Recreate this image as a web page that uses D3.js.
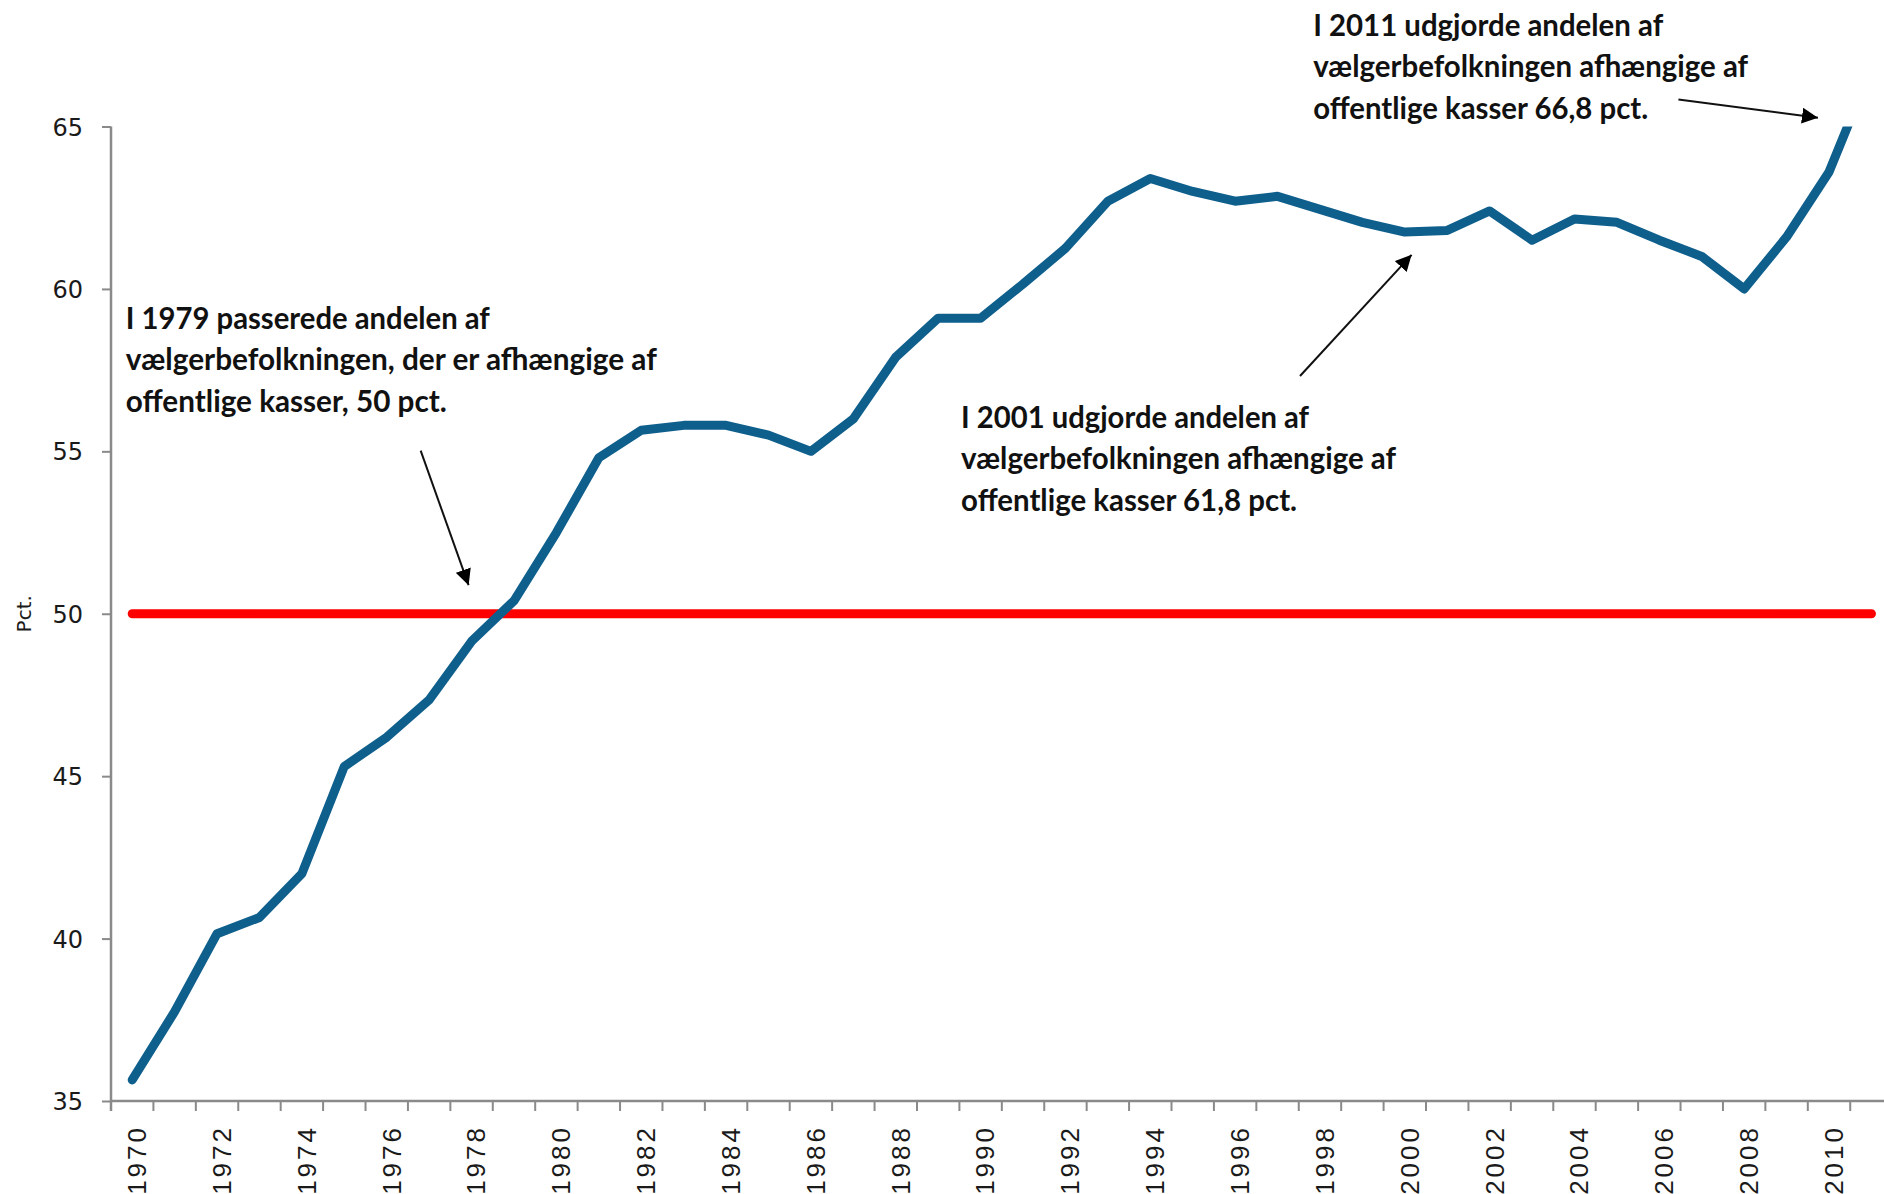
<!DOCTYPE html>
<html>
<head>
<meta charset="utf-8">
<script src="https://cdn.jsdelivr.net/npm/d3@7"></script>
<style>
html,body{margin:0;padding:0;background:#fff;}
svg{display:block;}
</style>
</head>
<body>
<svg id="chart" width="1884" height="1194"></svg>
<script>
// ---------------- DATA ----------------
const years = [1970,1971,1972,1973,1974,1975,1976,1977,1978,1979,
               1980,1981,1982,1983,1984,1985,1986,1987,1988,1989,
               1990,1991,1992,1993,1994,1995,1996,1997,1998,1999,
               2000,2001,2002,2003,2004,2005,2006,2007,2008,2009,
               2010,2011];
const shareValues = [35.65,37.75,40.15,40.65,42.0,45.3,46.2,47.35,49.15,50.4,
                     52.5,54.8,55.65,55.8,55.8,55.5,55.0,56.0,57.9,59.1,
                     59.1,60.15,61.25,62.7,63.4,63.0,62.7,62.85,62.45,62.05,
                     61.75,61.8,62.4,61.5,62.15,62.05,61.5,61.0,60.0,61.6,
                     63.6,66.8];
const thresholdValue = 50;
const yTicks = [35,40,45,50,55,60,65];
const xLabelYears = [1970,1972,1974,1976,1978,1980,1982,1984,1986,1988,1990,
                     1992,1994,1996,1998,2000,2002,2004,2006,2008,2010];
const yAxisTitle = "Pct.";

// annotations: text lines and anchor/arrow positions in data units (year, pct)
const annoLines1 = ["I 1979 passerede andelen af",
                    "vælgerbefolkningen,  der er afhængige  af",
                    "offentlige kasser, 50 pct."];
const annoLines2 = ["I 2001 udgjorde andelen af",
                    "vælgerbefolkningen  afhængige  af",
                    "offentlige kasser  61,8 pct."];
const annoLines3 = ["I 2011 udgjorde andelen af",
                    "vælgerbefolkningen  afhængige  af",
                    "offentlige kasser 66,8 pct."];
const annoAnchors = [[1969.85, 58.77],[1989.54, 55.72],[1997.84, 67.79]];
const arrowTails  = [[1976.8, 55.02],[1997.53, 57.32],[2006.45, 65.83]];
const arrowTips   = [[1977.93, 50.88],[2000.16, 61.05],[2009.74, 65.27]];

// ---------------- LAYOUT ----------------
const W = 1884, H = 1194;
const mLeft = 111, mTop = 126.5, mBottom = 1101;
const band = 42.42;
const svg = d3.select("#chart");
svg.append("rect").attr("width", W).attr("height", H).attr("fill", "#fff");

const x = d3.scaleBand().domain(years).range([mLeft, mLeft + band * years.length]).padding(0);
const bw = x.bandwidth();
const cx = d => x(d) + bw / 2;
const y = d3.scaleLinear().domain([35, 65]).range([mBottom, mTop]);
// continuous year scale for annotation placement
const xc = d3.scaleLinear().domain([years[0], years[years.length - 1]])
             .range([cx(years[0]), cx(years[years.length - 1])]);

const axisColor = "#8a8a8a";

// Y axis
const yAxis = svg.append("g").attr("transform", `translate(${mLeft},0)`)
  .call(d3.axisLeft(y).tickValues(yTicks).tickSize(9).tickPadding(19));
yAxis.select(".domain").attr("stroke", axisColor).attr("stroke-width", 2.5)
  .attr("d", `M0,${mTop}V${mBottom + 10}`);
yAxis.selectAll(".tick line").attr("stroke", axisColor).attr("stroke-width", 2);
yAxis.selectAll(".tick text")
  .attr("font-family", "'DejaVu Sans', Verdana, sans-serif")
  .attr("font-size", 24).attr("fill", "#1a1a1a").attr("dy", "0.36em");

// X axis (labels only via axis)
const xAxis = svg.append("g").attr("transform", `translate(0,${mBottom})`)
  .call(d3.axisBottom(x).tickValues(xLabelYears).tickSize(0));
xAxis.select(".domain").attr("stroke", axisColor).attr("stroke-width", 2.5)
  .attr("d", `M${mLeft},0H${W}`);
xAxis.selectAll(".tick text")
  .attr("transform", "rotate(-90)")
  .attr("text-anchor", "end")
  .attr("x", -24).attr("y", 4.5).attr("dy", "0.36em")
  .attr("font-family", "'Liberation Sans', Arial, sans-serif")
  .attr("font-size", 26).attr("letter-spacing", "3px").attr("fill", "#1a1a1a");

// X tick marks between categories
const boundaries = years.map(d => x(d)).concat([x(years[years.length - 1]) + bw]);
svg.append("g").selectAll("line").data(boundaries).join("line")
  .attr("x1", d => d).attr("x2", d => d)
  .attr("y1", mBottom).attr("y2", mBottom + 10)
  .attr("stroke", axisColor).attr("stroke-width", 2);

// Y axis title
svg.append("text")
  .attr("transform", `translate(31,${y(50)}) rotate(-90)`)
  .attr("text-anchor", "middle")
  .attr("font-family", "'DejaVu Sans', Verdana, sans-serif")
  .attr("font-size", 20).attr("fill", "#1a1a1a")
  .text(yAxisTitle);

// clip
svg.append("clipPath").attr("id", "plotclip").append("rect")
  .attr("x", mLeft).attr("y", mTop).attr("width", W - mLeft).attr("height", mBottom - mTop);

// Threshold line (50 pct.)
svg.append("line")
  .attr("x1", cx(years[0])).attr("x2", cx(years[years.length - 1]))
  .attr("y1", y(thresholdValue)).attr("y2", y(thresholdValue))
  .attr("stroke", "#ff0000").attr("stroke-width", 9).attr("stroke-linecap", "round");

// Main series
const line = d3.line().x((d, i) => cx(years[i])).y(d => y(d));
svg.append("path").datum(shareValues)
  .attr("clip-path", "url(#plotclip)")
  .attr("d", line)
  .attr("fill", "none").attr("stroke", "#0f5f8d").attr("stroke-width", 9)
  .attr("stroke-linejoin", "round").attr("stroke-linecap", "round");

// Arrow marker
const defs = svg.append("defs");
defs.append("marker").attr("id", "arrowhead")
  .attr("viewBox", "0 0 10 10").attr("refX", 10).attr("refY", 5)
  .attr("markerWidth", 8).attr("markerHeight", 8).attr("markerUnits", "strokeWidth")
  .attr("orient", "auto")
  .append("path").attr("d", "M0,0 L10,5 L0,10 z").attr("fill", "#000");

arrowTails.forEach((t, i) => {
  svg.append("line")
    .attr("x1", xc(t[0])).attr("y1", y(t[1]))
    .attr("x2", xc(arrowTips[i][0])).attr("y2", y(arrowTips[i][1]))
    .attr("stroke", "#111").attr("stroke-width", 2)
    .attr("marker-end", "url(#arrowhead)");
});

// Annotation texts
const annoSets = [annoLines1, annoLines2, annoLines3];
const annoWidths = [[364, 531, 321], [348, 435, 336], [350, 435, 335]];
const lineGap = 41.5;
annoSets.forEach((lines, i) => {
  const g = svg.append("text")
    .attr("font-family", "Lato, 'Open Sans', sans-serif")
    .attr("font-weight", 700).attr("font-size", 30).attr("fill", "#111");
  lines.forEach((s, j) => {
    g.append("tspan")
      .attr("x", xc(annoAnchors[i][0]))
      .attr("y", y(annoAnchors[i][1]) + j * lineGap)
      .attr("textLength", annoWidths[i][j])
      .attr("lengthAdjust", "spacingAndGlyphs")
      .text(s);
  });
});
</script>
</body>
</html>
